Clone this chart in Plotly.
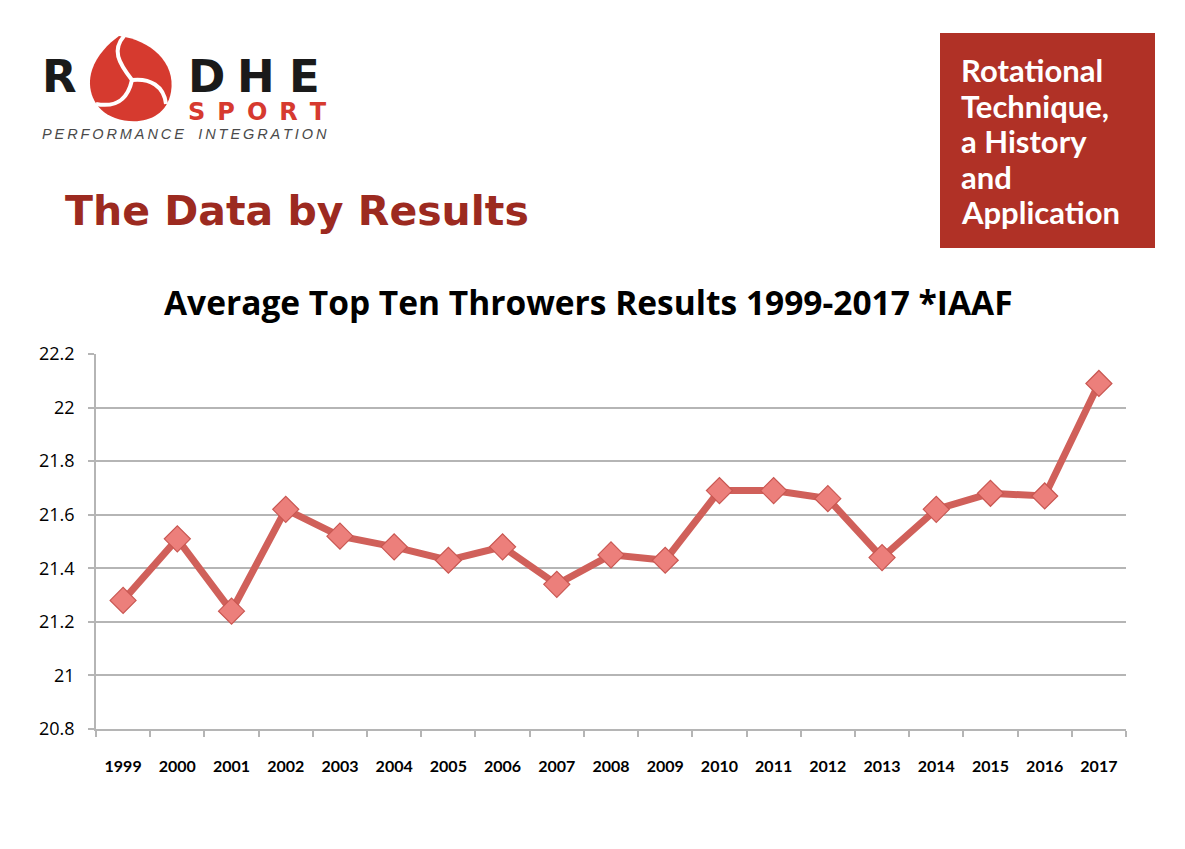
import plotly.graph_objects as go

W, H = 1185, 849

years = ["1999", "2000", "2001", "2002", "2003", "2004", "2005", "2006", "2007", "2008",
         "2009", "2010", "2011", "2012", "2013", "2014", "2015", "2016", "2017"]
results = [21.28, 21.51, 21.24, 21.62, 21.52, 21.48, 21.43, 21.48, 21.34, 21.45,
           21.43, 21.69, 21.69, 21.66, 21.44, 21.62, 21.68, 21.67, 22.09]
y_ticks = [20.8, 21, 21.2, 21.4, 21.6, 21.8, 22, 22.2]
y_tick_labels = ["20.8", "21", "21.2", "21.4", "21.6", "21.8", "22", "22.2"]

chart_title = "Average Top Ten Throwers Results 1999-2017 *IAAF"
header = "The Data by Results"
box_lines = ["Rotational", "Technique,", "a History", "and", "Application"]


def px(x):
    return x / W


def py(y):
    return 1 - y / H


fig = go.Figure()

fig.add_trace(go.Scatter(
    x=years, y=results, mode="lines+markers",
    line=dict(color="#d0605a", width=7),
    marker=dict(symbol="diamond", size=20, color="#ec7f7b",
                line=dict(color="#c95752", width=1.2)),
    hoverinfo="x+y", showlegend=False, cliponaxis=False,
))

fig.update_layout(
    width=W, height=H, autosize=False,
    margin=dict(l=0, r=0, t=0, b=0, pad=0, autoexpand=False),
    paper_bgcolor="white", plot_bgcolor="white",
    xaxis=dict(
        domain=[px(96), px(1126)], type="category", range=[-0.5, 18.5],
        showgrid=False, showline=True, linecolor="#b5b5b5", linewidth=1.5,
        ticks="outside", tickson="boundaries", ticklen=6, tickcolor="#b5b5b5", tickwidth=1.5,
        tickfont=dict(family="Lato", size=16, color="black", weight="bold"),
        ticklabelstandoff=22, automargin=False,
        fixedrange=True,
    ),
    yaxis=dict(
        domain=[py(729), py(354)], range=[20.8, 22.2],
        tickvals=y_ticks, ticktext=y_tick_labels,
        showgrid=True, gridcolor="#b5b5b5", gridwidth=1.5,
        showline=True, linecolor="#b5b5b5", linewidth=1.5,
        ticks="outside", ticklen=6, tickcolor="#b5b5b5", tickwidth=1.5,
        tickfont=dict(family="Open Sans", size=18, color="black"),
        ticklabelstandoff=10, automargin=False,
        zeroline=False, fixedrange=True,
    ),
)

annotations = []
shapes = []

# chart title
annotations.append(dict(
    text=f"<b>{chart_title}</b>", x=px(588), y=py(302), xref="paper", yref="paper",
    xanchor="center", yanchor="middle", showarrow=False,
    font=dict(family="Open Sans", size=33.5, color="black"),
))

# header
annotations.append(dict(
    text=f"<b>{header}</b>", x=px(63), y=py(211), xref="paper", yref="paper",
    xanchor="left", yanchor="middle", showarrow=False,
    font=dict(family="DejaVu Sans", size=41, color="#9c2a20"),
))

# red box
shapes.append(dict(type="rect", xref="paper", yref="paper",
                   x0=px(940), x1=px(1155), y0=py(248), y1=py(33),
                   fillcolor="#b03126", line=dict(width=0), layer="above"))
for i, t in enumerate(box_lines):
    annotations.append(dict(
        text=f"<b>{t}</b>", x=px(959), y=py(70 + i * 35.5), xref="paper", yref="paper",
        xanchor="left", yanchor="middle", showarrow=False,
        font=dict(family="Lato", size=31, color="white"),
    ))

# logo: red swirl emblem
emblem = ("M {0},{1} C {2},{3} {4},{5} {6},{7} C {8},{9} {10},{11} {12},{13} "
          "C {14},{15} {16},{17} {18},{19} C {20},{21} {22},{23} {0},{1} Z")
P = [(119, 36), (150, 40), (176, 62), (171, 92), (166, 120), (138, 126), (115, 118),
     (93, 110), (86, 88), (92, 70), (97, 55), (108, 44)]
flat = []
for (a, b) in P:
    flat += [px(a), py(b)]
shapes.append(dict(type="path", xref="paper", yref="paper",
                   path=emblem.format(*flat), fillcolor="#d63a2f",
                   line=dict(width=0), layer="above"))
swirls = [
    [(132, 80), (118, 62), (112, 50), (124, 36)],
    [(132, 80), (150, 78), (164, 86), (166, 104)],
    [(132, 80), (128, 98), (118, 108), (96, 104)],
]
for s in swirls:
    (a0, b0), (a1, b1), (a2, b2), (a3, b3) = s
    shapes.append(dict(type="path", xref="paper", yref="paper",
                       path=f"M {px(a0)},{py(b0)} C {px(a1)},{py(b1)} {px(a2)},{py(b2)} {px(a3)},{py(b3)}",
                       line=dict(color="white", width=4), layer="above"))

logo_letters = [("R", 59), ("D", 206), ("H", 256), ("E", 304)]
for ch, xc in logo_letters:
    annotations.append(dict(
        text=f"<b>{ch}</b>", x=px(xc), y=py(77), xref="paper", yref="paper",
        xanchor="center", yanchor="middle", showarrow=False,
        font=dict(family="DejaVu Sans", size=45, color="#1a1a1a"),
    ))
annotations.append(dict(
    text="<b>" + "\u2002".join("SPORT") + "</b>", x=px(257), y=py(112), xref="paper", yref="paper",
    xanchor="center", yanchor="middle", showarrow=False,
    font=dict(family="DejaVu Sans", size=24, color="#d63a2f"),
))
annotations.append(dict(
    text="<i>" + "\u2009".join("PERFORMANCE") + "\u2003" + "\u2009".join("INTEGRATION") + "</i>",
    x=px(40), y=py(134), xref="paper", yref="paper",
    xanchor="left", yanchor="middle", showarrow=False,
    font=dict(family="Liberation Sans", size=14.5, color="#4a4a4a"),
))

fig.update_layout(annotations=annotations, shapes=shapes)

fig.write_html("out.html", config={"displayModeBar": False},
               post_script="document.body.style.margin='0';document.body.style.overflow='hidden';")
